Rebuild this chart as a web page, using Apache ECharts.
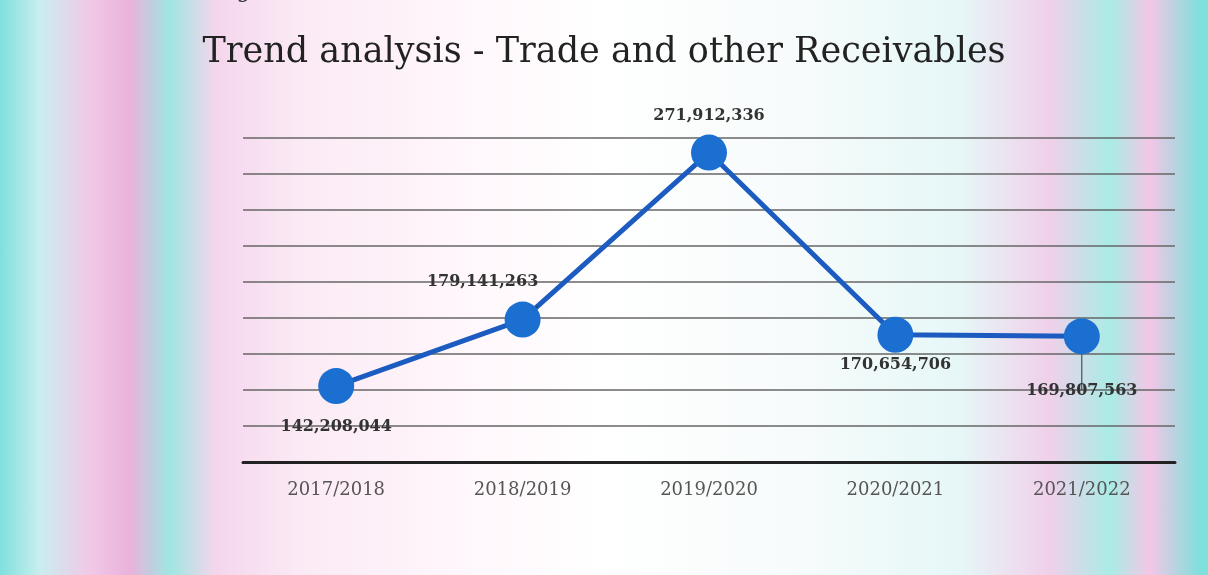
<!DOCTYPE html>
<html><head><meta charset="utf-8">
<script src="https://cdn.jsdelivr.net/npm/echarts@6/dist/echarts.min.js"></script>
<style>
html,body{margin:0;padding:0;}
body{width:1208px;height:575px;overflow:hidden;
background:linear-gradient(90deg,#7fe0dc 0px,#c9eef0 40px,#f2c8e6 90px,#e9b2dc 130px,#9fe6e2 170px,#f4d6ec 215px,#fbeaf5 300px,#fff6fb 450px,#ffffff 600px,#f7fbfb 800px,#e6f7f7 960px,#f0d0ea 1050px,#a9ece6 1110px,#f3c6e6 1150px,#7fe0dc 1200px);}
#c{width:1208px;height:575px;}
</style></head>
<body><div id="c"></div>
<script>
const categories = ['2017/2018','2018/2019','2019/2020','2020/2021','2021/2022'];
const values = [142208044, 179141263, 271912336, 170654706, 169807563];
const labelPositions = ['bottom','top','top','bottom','bottom'];
const labelDistances = [15, 8, 11, 4, 8];

const chart = echarts.init(document.getElementById('c'));
const fmt = v => v.toLocaleString('en-US');
const data = values.map((v,i)=>{
  const item = {value:v, label:{position:labelPositions[i], distance:labelDistances[i]}};
  if(i===1){ item.label.offset=[-40,-4]; item.labelLine={show:true,lineStyle:{color:'#333',width:1}}; }
  if(i===4){ item.label.offset=[0,20]; item.labelLine={show:true,lineStyle:{color:'#333',width:1}}; }
  return item;
});
chart.setOption({
  animation:false,
  title:{text:'Trend analysis - Trade and other Receivables',left:'center',top:30,
    textStyle:{fontFamily:'DejaVu Serif',fontSize:35,fontWeight:'normal',color:'#222'}},
  graphic:[{type:'text',left:0,top:-20,style:{text:'million as shown in figure 26.',font:'22px "DejaVu Serif"',fill:'#333'}}],
  grid:{left:243,right:33,top:138,bottom:113},
  xAxis:{type:'category',data:categories,boundaryGap:true,
    axisLine:{lineStyle:{color:'#222',width:3}},axisTick:{show:false},
    axisLabel:{margin:19,fontFamily:'DejaVu Serif',fontSize:18,color:'#555'}},
  yAxis:{type:'value',min:100000000,max:280000000,interval:20000000,
    axisLabel:{show:false},axisLine:{show:false},axisTick:{show:false},
    splitLine:{lineStyle:{color:'#666',width:1.5}}},
  series:[{type:'line',data:data,symbol:'circle',symbolSize:36,
    lineStyle:{color:'#1c5cc0',width:5},itemStyle:{color:'#1a6fd0'},
    label:{show:true,formatter:p=>fmt(p.value),fontFamily:'DejaVu Serif',fontSize:16,fontWeight:'bold',color:'#333'}}]
});
</script></body></html>
